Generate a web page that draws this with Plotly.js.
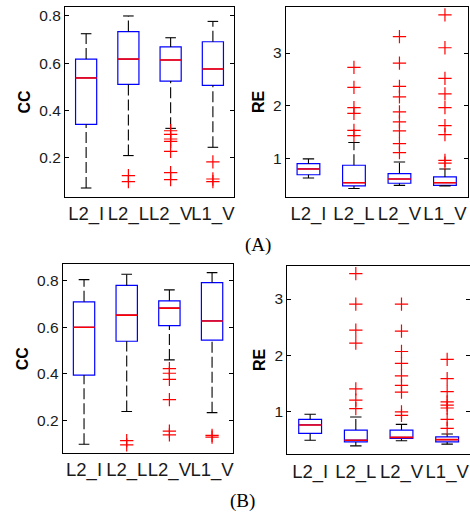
<!DOCTYPE html>
<html>
<head>
<meta charset="utf-8">
<script src="https://cdn.plot.ly/plotly-3.0.1.min.js"></script>
<style>html,body{margin:0;padding:0;background:#fff;}#chart{width:470px;height:513px;}</style>
</head>
<body>
<div id="chart"></div>
<script>
// ---- data ----
const categories = ["L2_I", "L2_L", "L2_V", "L1_V"];

// Panel (A) CC
const A_cc_q1  = [0.342, 0.511, 0.525, 0.507];
const A_cc_med = [0.538, 0.618, 0.614, 0.576];
const A_cc_q3  = [0.618, 0.734, 0.669, 0.691];
const A_cc_lo  = [0.073, 0.210, 0.325, 0.245];
const A_cc_hi  = [0.725, 0.800, 0.708, 0.777];
const A_cc_out = [[], [0.125, 0.100], [0.315, 0.300, 0.280, 0.270, 0.228, 0.138, 0.108], [0.183, 0.111, 0.100]];

// Panel (A) RE
const A_re_q1  = [0.70, 0.49, 0.54, 0.50];
const A_re_med = [0.81, 0.55, 0.62, 0.55];
const A_re_q3  = [0.91, 0.88, 0.72, 0.66];
const A_re_lo  = [0.64, 0.44, 0.50, 0.49];
const A_re_hi  = [1.00, 1.31, 0.94, 0.81];
const A_re_out = [[], [2.73, 2.35, 1.97, 1.86, 1.54, 1.44], [3.31, 2.81, 2.37, 2.17, 1.89, 1.70, 1.53, 1.29, 1.12], [3.72, 3.10, 2.52, 2.23, 1.97, 1.63, 1.46, 0.97, 0.92]];

// Panel (B) CC
const B_cc_q1  = [0.395, 0.540, 0.607, 0.545];
const B_cc_med = [0.600, 0.652, 0.682, 0.627];
const B_cc_q3  = [0.709, 0.779, 0.713, 0.791];
const B_cc_lo  = [0.099, 0.239, 0.460, 0.234];
const B_cc_hi  = [0.804, 0.827, 0.760, 0.834];
const B_cc_out = [[], [0.114, 0.096], [0.423, 0.403, 0.377, 0.290, 0.155, 0.139], [0.137, 0.129]];

// Panel (B) RE
const B_re_q1  = [0.62, 0.47, 0.53, 0.47];
const B_re_med = [0.77, 0.50, 0.55, 0.51];
const B_re_q3  = [0.87, 0.68, 0.68, 0.56];
const B_re_lo  = [0.50, 0.40, 0.49, 0.43];
const B_re_hi  = [0.96, 0.91, 0.78, 0.61];
const B_re_out = [[], [3.45, 2.91, 2.45, 2.22, 1.41, 1.21, 1.06], [2.91, 2.43, 2.07, 1.86, 1.64, 1.47, 1.35, 1.00, 0.94], [1.93, 1.59, 1.36, 1.18, 1.12, 1.07, 0.87, 0.71]];

const yTitles = ["CC", "RE", "CC", "RE"];
const captions = ["(A)", "(B)"];

// ---- build ----
const pos = categories.map((c, i) => i + 1);
const BOXW = 0.5, CAPW = 0.25;

function panel(q1, med, q3, lo, hi, out, xa, ya) {
  const tr = [];
  tr.push({type: 'box', x: pos, q1: q1, median: med, q3: q3, lowerfence: q1, upperfence: q3,
    width: BOXW, boxpoints: false, fillcolor: 'rgba(0,0,0,0)', whiskerwidth: 0,
    line: {color: '#0000ff', width: 1.2}, xaxis: xa, yaxis: ya, hoverinfo: 'skip', showlegend: false});
  const wx = [], wy = [];
  pos.forEach((p, i) => { wx.push(p, p, null, p, p, null); wy.push(lo[i], q1[i], null, q3[i], hi[i], null); });
  tr.push({type: 'scatter', mode: 'lines', x: wx, y: wy, line: {color: '#000', width: 1.1, dash: '11px,4px'},
    xaxis: xa, yaxis: ya, hoverinfo: 'skip', showlegend: false});
  const cx = [], cy = [];
  pos.forEach((p, i) => { cx.push(p - CAPW / 2, p + CAPW / 2, null, p - CAPW / 2, p + CAPW / 2, null); cy.push(lo[i], lo[i], null, hi[i], hi[i], null); });
  tr.push({type: 'scatter', mode: 'lines', x: cx, y: cy, line: {color: '#000', width: 1.1},
    xaxis: xa, yaxis: ya, hoverinfo: 'skip', showlegend: false});
  const mx = [], my = [];
  pos.forEach((p, i) => { mx.push(p - BOXW / 2, p + BOXW / 2, null); my.push(med[i], med[i], null); });
  tr.push({type: 'scatter', mode: 'lines', x: mx, y: my, line: {color: '#ff0000', width: 1.6},
    xaxis: xa, yaxis: ya, hoverinfo: 'skip', showlegend: false});
  const ox = [], oy = [];
  out.forEach((arr, i) => arr.forEach(v => { ox.push(pos[i]); oy.push(v); }));
  tr.push({type: 'scatter', mode: 'markers', x: ox, y: oy,
    marker: {symbol: 'cross-thin-open', size: 9.5, color: '#ff0000', line: {color: '#ff0000', width: 1.2}},
    xaxis: xa, yaxis: ya, hoverinfo: 'skip', showlegend: false});
  return tr;
}

const data = [].concat(
  panel(A_cc_q1, A_cc_med, A_cc_q3, A_cc_lo, A_cc_hi, A_cc_out, 'x', 'y'),
  panel(A_re_q1, A_re_med, A_re_q3, A_re_lo, A_re_hi, A_re_out, 'x2', 'y2'),
  panel(B_cc_q1, B_cc_med, B_cc_q3, B_cc_lo, B_cc_hi, B_cc_out, 'x3', 'y3'),
  panel(B_re_q1, B_re_med, B_re_q3, B_re_lo, B_re_hi, B_re_out, 'x4', 'y4')
);

const SANS = 'Liberation Sans';
const SERIF = 'Liberation Serif';
const tickCol = '#1a1a1a';
function xax(domain, anchor) {
  return {domain: domain, anchor: anchor, range: [0.5, 4.5], tickvals: pos, ticktext: categories,
    tickangle: 0, ticks: '', showline: true, mirror: true, linecolor: '#000', linewidth: 1,
    showgrid: false, zeroline: false, tickfont: {family: SANS, size: 18.5, color: tickCol}};
}
function yax(domain, anchor, range, tv, fmt, title) {
  return {domain: domain, anchor: anchor, range: range, tickvals: tv, tickformat: fmt,
    ticks: 'inside', ticklen: 4, tickcolor: '#000', showline: true, mirror: 'ticks', linecolor: '#000', linewidth: 1,
    showgrid: false, zeroline: false, tickfont: {family: SANS, size: 15.5, color: tickCol},
    title: {text: title, standoff: 4, font: {family: SANS, size: 16, color: '#000', weight: 'bold'}}};
}

const layout = {
  width: 470, height: 513, margin: {l: 0, r: 0, t: 0, b: 0},
  paper_bgcolor: '#fff', plot_bgcolor: '#fff', showlegend: false,
  xaxis:  xax([0.1383, 0.4979], 'y'),
  yaxis:  yax([0.616, 0.9864], 'x', [0.035, 0.838], [0.2, 0.4, 0.6, 0.8], '.1f', yTitles[0]),
  xaxis2: xax([0.6079, 0.9951], 'y2'),
  yaxis2: yax([0.616, 0.9864], 'x2', [0.28, 3.87], [1, 2, 3], 'd', yTitles[1]),
  xaxis3: xax([0.1334, 0.4966], 'y3'),
  yaxis3: yax([0.1164, 0.4854], 'x3', [0.06, 0.871], [0.2, 0.4, 0.6, 0.8], '.1f', yTitles[2]),
  xaxis4: xax([0.6113, 1.0], 'y4'),
  yaxis4: yax([0.1144, 0.4821], 'x4', [0.25, 3.59], [1, 2, 3], 'd', yTitles[3]),
  annotations: [
    {text: captions[0], xref: 'paper', yref: 'paper', x: 0.549, y: 0.5224, showarrow: false,
      xanchor: 'center', yanchor: 'middle', font: {family: SERIF, size: 19, color: '#000'}},
    {text: captions[1], xref: 'paper', yref: 'paper', x: 0.515, y: 0.0234, showarrow: false,
      xanchor: 'center', yanchor: 'middle', font: {family: SERIF, size: 19, color: '#000'}}
  ]
};

Plotly.newPlot('chart', data, layout, {staticPlot: true, displayModeBar: false});
</script>
</body>
</html>
